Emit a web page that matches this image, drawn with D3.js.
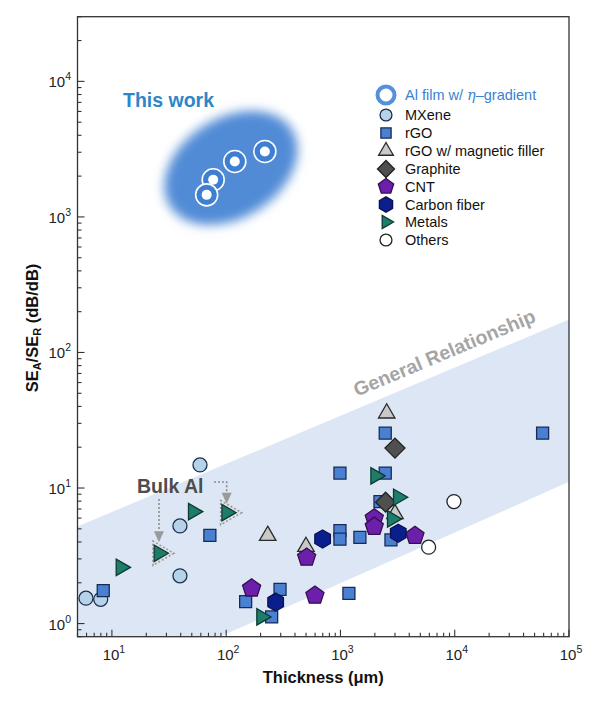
<!DOCTYPE html>
<html><head><meta charset="utf-8">
<script src="https://cdn.jsdelivr.net/npm/d3@7"></script>
<style>body{margin:0;background:#fff}svg{font-family:Arial,"Liberation Sans",sans-serif}</style>
</head><body><svg id="c" width="601" height="703"></svg>
<script>
// ---------- data ----------
const xDomain = [5, 1e5];
const yDomain = [0.8, 3e4];
const xTickValues = [10, 100, 1000, 10000, 100000];
const yTickValues = [1, 10, 100, 1000, 10000];
const tickExponents = ["0", "1", "2", "3", "4", "5"];

const alFilmX = [218, 119, 77, 67.5];
const alFilmY = [3040, 2565, 1880, 1455];
const mxeneX = [59, 39.4, 39.4, 5.93, 7.98];
const mxeneY = [14.8, 5.25, 2.25, 1.54, 1.51];
const rgoX = [8.4, 72, 148, 296, 250, 990, 990, 990, 1480, 1186, 2466, 2466, 2218, 2767, 58750];
const rgoY = [1.75, 4.48, 1.45, 1.79, 1.12, 12.9, 4.85, 4.19, 4.33, 1.67, 25.4, 12.9, 7.94, 4.14, 25.4];
const rgoMagX = [2540, 231, 499, 3000];
const rgoMagY = [35.6, 4.45, 3.69, 6.44];
const graphiteX = [3000, 2485];
const graphiteY = [19.7, 7.86];
const cntX = [167, 598, 506, 1977, 1977, 4487];
const cntY = [1.82, 1.61, 3.07, 5.98, 5.19, 4.45];
const carbonFiberX = [698, 3206, 271];
const carbonFiberY = [4.21, 4.64, 1.44];
const metalsX = [12, 51.5, 25.8, 101, 204, 2032, 3206, 2840];
const metalsY = [2.6, 6.7, 3.3, 6.58, 1.12, 12.3, 8.55, 5.92];
const othersX = [9840, 5910];
const othersY = [7.94, 3.66];
const bulkAlX = [25.8, 101];
const bulkAlY = [3.3, 6.58];

const bandX = [5, 1e5, 1e5, 5];
const bandY = [5.2, 175, 11.1, 0.274];
const thisWorkCenter = [110, 2300];

const legendLabels = ["MXene", "rGO", "rGO w/ magnetic filler", "Graphite", "CNT", "Carbon fiber", "Metals", "Others"];

// ---------- setup ----------
const svg = d3.select("#c");
const L = 77.5, R = 569, T = 16.7, B = 636.7;
const x = d3.scaleLog().domain(xDomain).range([L, R]);
const y = d3.scaleLog().domain(yDomain).range([B, T]);

const defs = svg.append("defs");
defs.append("clipPath").attr("id", "clip").append("rect")
  .attr("x", L).attr("y", T).attr("width", R - L).attr("height", B - T);
defs.append("filter").attr("id", "blur").attr("x", "-50%").attr("y", "-50%").attr("width", "200%").attr("height", "200%")
  .append("feGaussianBlur").attr("stdDeviation", 5.5);

// band
const bandPts = bandX.map((v, i) => [x(v), y(bandY[i])]);
svg.append("path").attr("clip-path", "url(#clip)")
  .attr("d", d3.line()(bandPts) + "Z").attr("fill", "#dce6f4");

// General Relationship text
{
  const p1 = [x(bandX[0]), y(bandY[0])], p2 = [x(bandX[1]), y(bandY[1])];
  const ang = Math.atan2(p2[1] - p1[1], p2[0] - p1[0]) * 180 / Math.PI;
  const tx = 447, ty = 359;
  svg.append("text").attr("transform", `translate(${tx},${ty}) rotate(${ang})`)
    .attr("text-anchor", "middle").attr("font-weight", "bold").attr("font-size", 19.5)
    .attr("fill", "#a5a5a5").text("General Relationship");
}

// shape helpers
function poly(n, r, startDeg) {
  const pts = [];
  for (let i = 0; i < n; i++) {
    const a = (startDeg + i * 360 / n) * Math.PI / 180;
    pts.push([r * Math.cos(a), r * Math.sin(a)]);
  }
  return "M" + pts.map(p => p[0].toFixed(2) + "," + p[1].toFixed(2)).join("L") + "Z";
}
const shapes = {
  circle: s => d3.symbol(d3.symbolCircle, Math.PI * s * s)(),
  square: s => `M${-s},${-s}H${s}V${s}H${-s}Z`,
  triUp: s => poly(3, s, -90),
  triRight: s => poly(3, s, 0),
  diamond: s => poly(4, s, -90),
  pentagon: s => poly(5, s, -90),
  hexagon: s => poly(6, s, -90)
};

const series = [
  {xs: mxeneX, ys: mxeneY, shape: "circle", size: 7, fill: "#b5d3e8", stroke: "#1d2f4d"},
  {xs: rgoX, ys: rgoY, shape: "square", size: 6, fill: "#4a80d2", stroke: "#1b2a55"},
  {xs: rgoMagX, ys: rgoMagY, shape: "triUp", size: 9.5, fill: "#c9c9c9", stroke: "#2a2a2a"},
  {xs: graphiteX, ys: graphiteY, shape: "diamond", size: 10, fill: "#4f4f4f", stroke: "#202020"},
  {xs: cntX, ys: cntY, shape: "pentagon", size: 9.5, fill: "#6b1fab", stroke: "#34104f"},
  {xs: carbonFiberX, ys: carbonFiberY, shape: "hexagon", size: 9, fill: "#0b1e8e", stroke: "#0a134f"},
  {xs: metalsX, ys: metalsY, shape: "triRight", size: 9.5, fill: "#1e7c6a", stroke: "#0c3a32"},
  {xs: othersX, ys: othersY, shape: "circle", size: 7, fill: "#ffffff", stroke: "#222222"}
];

// Bulk Al halos
svg.append("g").selectAll("path").data(bulkAlX.map((v, i) => [v, bulkAlY[i]])).join("path")
  .attr("transform", d => `translate(${x(d[0]) + 1},${y(d[1])})`)
  .attr("d", shapes.triRight(14)).attr("fill", "#e4e4ea").attr("stroke", "#9a9a9a")
  .attr("stroke-width", 1.6).attr("stroke-dasharray", "2,2");

const gPts = svg.append("g").attr("clip-path", "url(#clip)");
series.forEach(s => {
  gPts.append("g").selectAll("path").data(s.xs.map((v, i) => [v, s.ys[i]])).join("path")
    .attr("transform", d => `translate(${x(d[0])},${y(d[1])})`)
    .attr("d", shapes[s.shape](s.size)).attr("fill", s.fill).attr("stroke", s.stroke).attr("stroke-width", 1.3);
});

// Bulk Al label + arrows
svg.append("text").attr("x", 137).attr("y", 493).attr("font-weight", "bold").attr("font-size", 19.5)
  .attr("fill", "#4d4d4d").text("Bulk Al");
{
  const ax1 = x(bulkAlX[0]), ay1 = y(bulkAlY[0]);
  const ax2 = x(bulkAlX[1]), ay2 = y(bulkAlY[1]);
  const arrowStyle = sel => sel.attr("fill", "none").attr("stroke", "#8c8c8c").attr("stroke-width", 1.6).attr("stroke-dasharray", "2,2");
  svg.append("path").attr("d", `M${ax1},499V${ay1 - 22}`).call(arrowStyle);
  svg.append("path").attr("d", `M${ax1 - 5},${ay1 - 22}L${ax1 + 5},${ay1 - 22}L${ax1},${ay1 - 11}Z`).attr("fill", "#9a9a9a");
  svg.append("path").attr("d", `M214,482H${ax2}V${ay2 - 20}`).call(arrowStyle);
  svg.append("path").attr("d", `M${ax2 - 5},${ay2 - 20}L${ax2 + 5},${ay2 - 20}L${ax2},${ay2 - 9}Z`).attr("fill", "#9a9a9a");
}

// This work blob
{
  const cx = x(thisWorkCenter[0]), cy = y(thisWorkCenter[1]);
  svg.append("ellipse").attr("cx", 0).attr("cy", 0).attr("rx", 72).attr("ry", 50)
    .attr("transform", `translate(${cx},${cy}) rotate(-32)`)
    .attr("fill", "#518bd6").attr("filter", "url(#blur)");
  svg.append("text").attr("x", 123).attr("y", 107).attr("font-weight", "bold").attr("font-size", 19.5)
    .attr("fill", "#2e86c8").text("This work");
  const g = svg.append("g").selectAll("g").data(alFilmX.map((v, i) => [v, alFilmY[i]])).join("g")
    .attr("transform", d => `translate(${x(d[0])},${y(d[1])})`);
  g.append("circle").attr("r", 11).attr("fill", "#3f7fd2").attr("stroke", "#ffffff").attr("stroke-width", 1.6);
  g.append("circle").attr("r", 5).attr("fill", "#ffffff");
}

// frame
svg.append("rect").attr("x", L).attr("y", T).attr("width", R - L).attr("height", B - T)
  .attr("fill", "none").attr("stroke", "#333").attr("stroke-width", 1.3);

// ticks
const gt = svg.append("g").attr("stroke", "#333").attr("stroke-width", 1.1);
function minorTicks(domain) {
  const out = [];
  for (let e = Math.floor(Math.log10(domain[0])); e <= Math.ceil(Math.log10(domain[1])); e++) {
    for (let m = 1; m < 10; m++) {
      const v = m * Math.pow(10, e);
      if (v >= domain[0] * 0.999 && v <= domain[1] * 1.001) out.push({v, major: m === 1});
    }
  }
  return out;
}
minorTicks(xDomain).forEach(t => {
  gt.append("line").attr("x1", x(t.v)).attr("x2", x(t.v)).attr("y1", B).attr("y2", B - (t.major ? 7 : 4));
});
minorTicks(yDomain).forEach(t => {
  gt.append("line").attr("y1", y(t.v)).attr("y2", y(t.v)).attr("x1", L).attr("x2", L + (t.major ? 7 : 4));
});

// tick labels
xTickValues.forEach(v => {
  const e = Math.round(Math.log10(v));
  const t = svg.append("text").attr("x", x(v) + 2).attr("y", 660).attr("text-anchor", "middle").attr("font-size", 15).attr("fill", "#222");
  t.append("tspan").text("10");
  t.append("tspan").attr("dy", -7).attr("font-size", 10.5).text(tickExponents[e]);
});
yTickValues.forEach(v => {
  const e = Math.round(Math.log10(v));
  const t = svg.append("text").attr("x", 71).attr("y", y(v) + 6).attr("text-anchor", "end").attr("font-size", 15).attr("fill", "#222");
  t.append("tspan").text("10");
  t.append("tspan").attr("dy", -7).attr("font-size", 10.5).text(tickExponents[e]);
});

// axis titles
svg.append("text").attr("x", (L + R) / 2).attr("y", 683).attr("text-anchor", "middle")
  .attr("font-weight", "bold").attr("font-size", 16.5).attr("fill", "#111").text("Thickness (μm)");
{
  const t = svg.append("text").attr("transform", "translate(38,328) rotate(-90)").attr("text-anchor", "middle")
    .attr("font-weight", "bold").attr("font-size", 16.5).attr("fill", "#111");
  t.append("tspan").text("SE");
  t.append("tspan").attr("font-size", 11).attr("dy", 3).text("A");
  t.append("tspan").attr("dy", -3).text("/SE");
  t.append("tspan").attr("font-size", 11).attr("dy", 3).text("R");
  t.append("tspan").attr("dy", -3).text(" (dB/dB)");
}

// legend
{
  const lx = 386, tx = 405, y0 = 95;
  const gAl = svg.append("g").attr("transform", `translate(${lx},${y0})`);
  gAl.append("circle").attr("r", 8.5).attr("fill", "#fff").attr("stroke", "#5590dc").attr("stroke-width", 4);
  const at = svg.append("text").attr("x", tx).attr("y", y0 + 5).attr("font-size", 14.5).attr("fill", "#3a82d2");
  at.append("tspan").text("Al film w/ ");
  at.append("tspan").attr("font-style", "italic").attr("font-family", "'DejaVu Serif',serif").text("η");
  at.append("tspan").text("–gradient");
  const rowY = [115, 133, 151, 169, 186.5, 204.5, 222, 240];
  const legScale = [0.85, 0.85, 0.9, 0.85, 0.85, 0.85, 0.8, 0.85];
  series.forEach((s, i) => {
    svg.append("path").attr("transform", `translate(${lx},${rowY[i]})`)
      .attr("d", shapes[s.shape](s.size * legScale[i])).attr("fill", s.fill).attr("stroke", s.stroke).attr("stroke-width", 1.3);
    svg.append("text").attr("x", tx).attr("y", rowY[i] + 5).attr("font-size", 14.5).attr("fill", "#111").text(legendLabels[i]);
  });
}
</script></body></html>
